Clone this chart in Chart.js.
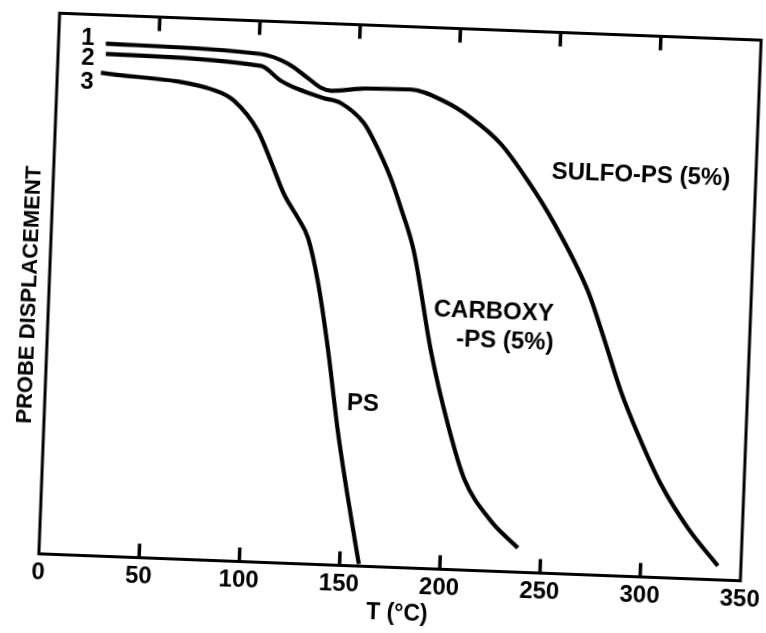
<!DOCTYPE html>
<html>
<head>
<meta charset="utf-8">
<script src="https://cdn.jsdelivr.net/npm/chart.js@4.4.1/dist/chart.umd.min.js"></script>
<style>
  body { margin:0; background:#fff; overflow:hidden; width:766px; height:633px; }
  #chart1 { position:absolute; left:-30px; top:-20px; transform:rotate(2.2deg); transform-origin:430px 317px; }
</style>
</head>
<body>
<canvas id="chart1" width="840" height="680"></canvas>
<script>
// curve 1 - sulfonated PS
const sulfoT = [23.6, 101.0, 114.7, 124.9, 131.6, 137.0, 151.5, 176.4, 193.1, 206.9, 222.3, 236.4, 250.2, 268.4, 277.3, 286.8, 296.1, 308.5, 322.8, 338.5];
const sulfoY = [94.7, 93.9, 92.3, 89.8, 88.1, 87.6, 88.2, 88.4, 86.5, 83.6, 79.0, 72.4, 64.8, 52.5, 43.9, 34.2, 26.4, 17.3, 9.4, 2.6];

// curve 2 - carboxylated PS
const carboxyT = [23.8, 101.2, 111.5, 120.1, 133.2, 141.8, 153.6, 159.0, 168.1, 173.7, 181.0, 191.4, 201.2, 210.3, 224.5, 238.5];
const carboxyY = [92.8, 91.7, 89.1, 87.7, 86.2, 85.4, 81.9, 78.7, 71.9, 66.5, 58.6, 40.3, 26.9, 17.0, 9.3, 4.5];

// curve 3 - PS
const psT = [21.7, 79.3, 88.5, 101.0, 108.0, 115.2, 122.6, 128.0, 133.7, 140.0, 146.6, 152.9, 159.6];
const psY = [89.3, 86.8, 85.1, 79.7, 74.2, 68.2, 63.9, 60.3, 52.4, 40.1, 24.8, 12.5, 0.4];

const xTicks = [0, 50, 100, 150, 200, 250, 300, 350];

// text labels inside the plot: [text, T, Y]
const notas = [
    ["1", 14.6, 95.5],
    ["2", 14.9, 91.8],
    ["3", 14.9, 87.5],
    ["SULFO-PS (5%)", 292.7, 74.1],
    ["CARBOXY", 222.0, 47.9],
    ["-PS (5%)", 228.1, 42.6],
    ["PS", 158.5, 30.0]
];

const fuente = '"Liberation Sans", Arial, sans-serif';

function serie(ts, ys){
    return {
        data: ts.map((t,i)=>({x:t, y:ys[i]})),
        borderColor: "#000",
        borderWidth: 4.2,
        pointRadius: 0,
        cubicInterpolationMode: "monotone",
        fill: false
    };
}

// frame, ticks into the plot, texts
const marco = {
    id: "marco",
    afterDraw(chart){
        const ctx = chart.ctx;
        const a = chart.chartArea;
        const sx = chart.scales.x;
        const sy = chart.scales.y;
        ctx.save();
        ctx.strokeStyle = "#000";
        ctx.lineWidth = 3;
        ctx.strokeRect(a.left, a.top, a.right - a.left, a.bottom - a.top);

        ctx.fillStyle = "#000";
        xTicks.forEach(v=>{
            if(v == 0 || v == 350) return;
            const px = sx.getPixelForValue(v);
            ctx.fillRect(px - 1.75, a.bottom - 14, 3.5, 14);
            ctx.fillRect(px - 1.75, a.top, 3.5, 14);
        });

        ctx.textAlign = "center";
        ctx.textBaseline = "middle";
        ctx.font = "bold 24px " + fuente;
        notas.forEach(n=>{
            ctx.fillText(n[0], sx.getPixelForValue(n[1]), sy.getPixelForValue(n[2]));
        });

        // axis titles
        ctx.font = "bold 23px " + fuente;
        ctx.fillText("T (°C)", (a.left + a.right)/2 + 9, a.bottom + 46.5);

        ctx.translate(a.left - 19, (a.top + a.bottom)/2 + 12);
        ctx.rotate(-Math.PI/2);
        ctx.font = "bold 22px " + fuente;
        ctx.fillText("PROBE DISPLACEMENT", 0, 0);
        ctx.restore();
    }
};

new Chart(document.getElementById("chart1"), {
    type: "line",
    data: {
        datasets: [
            serie(sulfoT, sulfoY),
            serie(carboxyT, carboxyY),
            serie(psT, psY)
        ]
    },
    options: {
        responsive: false,
        animation: false,
        devicePixelRatio: 1,
        layout: { padding: { top: 46.5 } },
        plugins: {
            legend: { display: false },
            tooltip: { enabled: false }
        },
        scales: {
            x: {
                type: "linear",
                position: "bottom",
                min: 0,
                max: 350,
                afterFit(s){ s.height = 92.5; },
                afterBuildTicks(s){ s.ticks = xTicks.map(v=>({value:v})); },
                grid: { display: false, drawTicks: false },
                border: { display: false },
                ticks: {
                    padding: 4,
                    color: "#000",
                    font: { family: fuente, size: 24, weight: "bold" }
                }
            },
            y: {
                min: 0,
                max: 100,
                position: "left",
                afterFit(s){ s.width = 79; },
                grid: { display: false },
                border: { display: false },
                ticks: { display: false }
            },
            y2: {
                min: 0,
                max: 100,
                position: "right",
                afterFit(s){ s.width = 59; },
                grid: { display: false },
                border: { display: false },
                ticks: { display: false }
            }
        }
    },
    plugins: [marco]
});
</script>
</body>
</html>
